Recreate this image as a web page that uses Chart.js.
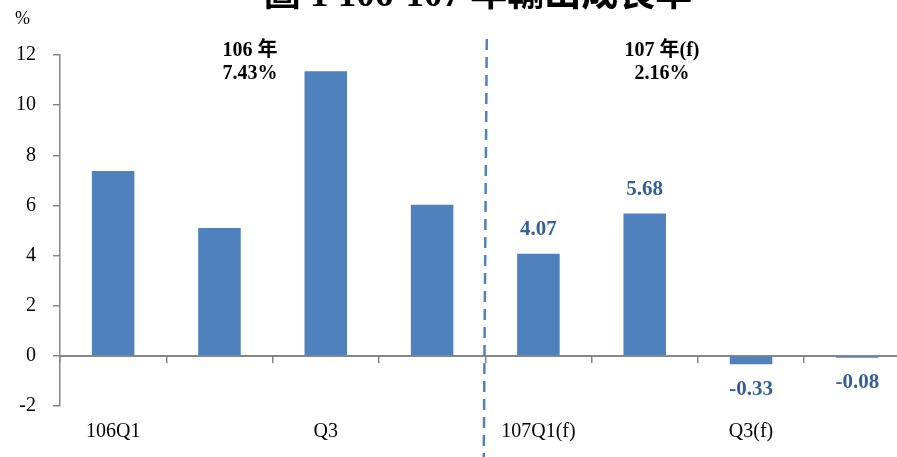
<!DOCTYPE html>
<html>
<head>
<meta charset="utf-8">
<script src="https://cdn.jsdelivr.net/npm/chart.js@4.4.1/dist/chart.umd.min.js"></script>
<style>
  html, body { margin: 0; padding: 0; background: #fff; overflow: hidden; }
  #wrap { position: absolute; left: 0; top: 0; width: 920px; height: 457px; }
</style>
</head>
<body>
<div id="wrap"><canvas id="chart"></canvas></div>
<script>
// quarterly export growth, 106-107
const quarters = ["106Q1", "", "Q3", "", "107Q1(f)", "", "Q3(f)", ""]
const growth = [7.37, 5.1, 11.35, 6.03, 4.07, 5.68, -0.33, -0.08]
const labelledFrom = 4   // only the forecast bars carry a value label
const yearNotes = [["106 年", "7.43%"], ["107 年(f)", "2.16%"]]
const titleText = "圖 1 106-107 年輸出成長率"

const serif = "'Liberation Serif', 'Noto Sans CJK TC', serif"
const axisGray = "#868686"
const barBlue = "#4F81BD"

const extras = {
  id: "extras",
  afterDatasetsDraw(chart) {
    const {ctx, scales: {x, y}} = chart
    ctx.save()

    // title, pushed up past the top edge
    ctx.fillStyle = "#000"
    ctx.font = "bold 37px " + serif
    ctx.textAlign = "center"
    ctx.textBaseline = "alphabetic"
    ctx.fillText(titleText, 478, 6)

    // unit
    ctx.font = "18px " + serif
    ctx.textAlign = "left"
    ctx.textBaseline = "middle"
    ctx.fillText("%", 15, 19)

    // year summaries
    ctx.font = "bold 20px " + serif
    ctx.textAlign = "center"
    const noteX = [250, 662]
    yearNotes.forEach((lines, i) => {
      ctx.fillText(lines[0], noteX[i], 51)
      ctx.fillText(lines[1], noteX[i], 74)
    })

    // value labels on the forecast bars
    const meta = chart.getDatasetMeta(0)
    ctx.fillStyle = "#366092"
    ctx.font = "bold 21px " + serif
    meta.data.forEach((bar, i) => {
      if (i < labelledFrom) return
      const v = growth[i]
      const ly = v >= 0 ? bar.y - 24 : bar.y + 25
      ctx.fillText(v.toFixed(2), bar.x, ly)
    })

    // dashed separator between the two years
    const sx = (x.getPixelForValue(labelledFrom - 1) + x.getPixelForValue(labelledFrom)) / 2
    ctx.strokeStyle = barBlue
    ctx.lineWidth = 2.5
    ctx.setLineDash([11, 7])
    ctx.beginPath()
    ctx.moveTo(sx + 1.5, 39)
    ctx.lineTo(sx - 1.5, chart.height)
    ctx.stroke()

    ctx.restore()
  }
}

const chart = new Chart("chart", {
  type: "bar",
  data: {
    labels: quarters,
    datasets: [{
      data: growth,
      backgroundColor: barBlue,
      categoryPercentage: 1,
      barPercentage: 0.4,
    }]
  },
  options: {
    responsive: true,
    maintainAspectRatio: false,
    animation: false,
    layout: {padding: {top: 55, bottom: 51, left: 0, right: 9.5}},
    plugins: {
      legend: {display: false},
      tooltip: {enabled: false},
    },
    scales: {
      x: {
        position: {y: 0},
        grid: {offset: true, drawOnChartArea: false, tickLength: 6, color: axisGray, lineWidth: 1.5},
        border: {color: axisGray, width: 2},
        ticks: {color: "#000", font: {family: serif, size: 20}, padding: 58, maxRotation: 0, autoSkip: false}
      },
      y: {
        min: -2,
        max: 12,
        afterFit: scale => { scale.width = 60 },
        grid: {drawOnChartArea: false, tickLength: 7, color: axisGray, lineWidth: 1.5},
        border: {color: axisGray, width: 1.5},
        ticks: {stepSize: 2, color: "#000", font: {family: serif, size: 20}, padding: 17}
      }
    }
  },
  plugins: [extras]
})
</script>
</body>
</html>
